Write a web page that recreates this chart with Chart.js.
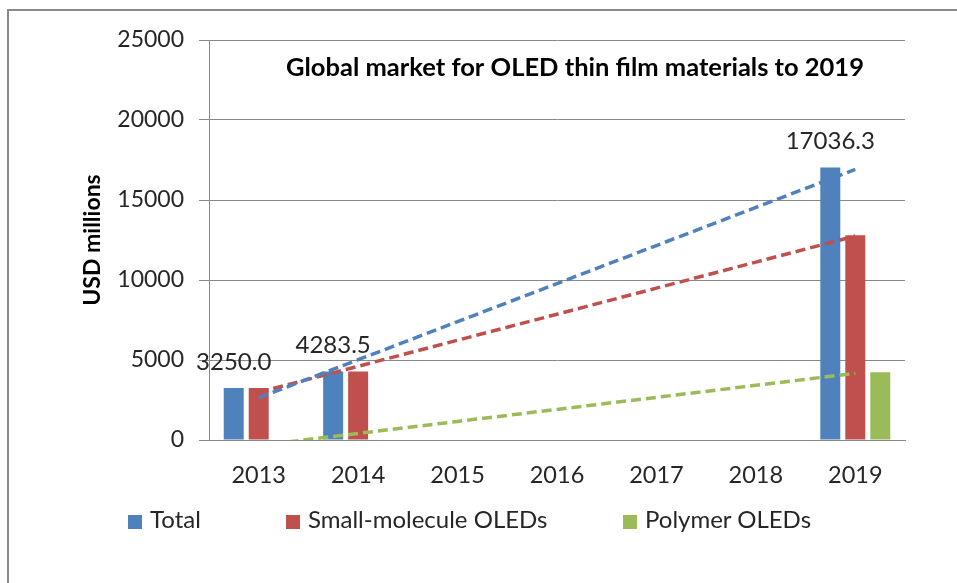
<!DOCTYPE html>
<html>
<head>
<meta charset="utf-8">
<script src="https://cdn.jsdelivr.net/npm/chart.js@4.4.1/dist/chart.umd.min.js"></script>
<style>
  body { margin: 0; background: #fff; font-family: Lato, sans-serif; }
  #wrap { position: relative; width: 957px; height: 583px; overflow: hidden; }
  #frame { position: absolute; left: 7px; top: 9px; width: 1000px; height: 1000px;
           border-top: 2px solid #8a8a8a; border-left: 2px solid #8a8a8a; }
  canvas { position: absolute; left: 0; top: 0; }
  .leg { position: absolute; top: 505px; font-size: 24px; color: #262626; white-space: nowrap; line-height: 28px; }
  .leg span { display: inline-block; width: 14px; height: 14px; margin-right: 8px; vertical-align: -1px; }
</style>
</head>
<body>
<div id="wrap">
  <div id="frame"></div>
  <canvas id="chart" width="957" height="583"></canvas>
  <div class="leg" style="left:128px"><span style="background:#4F81BD"></span>Total</div>
  <div class="leg" style="left:286px"><span style="background:#C0504D"></span>Small-molecule OLEDs</div>
  <div class="leg" style="left:623px"><span style="background:#9BBB59"></span>Polymer OLEDs</div>
</div>
<script>
const years = ["2013", "2014", "2015", "2016", "2017", "2018", "2019"];
const totalValues = [3250.0, 4283.5, null, null, null, null, 17036.3];
const smallMolecule = [3250.0, 4283.5, null, null, null, null, 12800.0];
const polymer = [0, 0, null, null, null, null, 4236.3];
const yTicks = [0, 5000, 10000, 15000, 20000, 25000];

const colors = ["#4F81BD", "#C0504D", "#9BBB59"];

// least-squares trendline over the filled points, evaluated at every category
function trend(values) {
    const pts = values.map((v, i) => [i, v]).filter(p => p[1] !== null);
    const n = pts.length;
    const mx = pts.reduce((s, p) => s + p[0], 0) / n;
    const my = pts.reduce((s, p) => s + p[1], 0) / n;
    let sxy = 0, sxx = 0;
    pts.forEach(p => { sxy += (p[0] - mx) * (p[1] - my); sxx += (p[0] - mx) * (p[0] - mx); });
    const slope = sxy / sxx;
    return values.map((v, i) => my + slope * (i - mx));
}

function trendSet(values, color) {
    return {
        type: "line",
        data: trend(values),
        borderColor: color,
        borderWidth: 3.5,
        borderDash: [10, 5],
        pointRadius: 0,
        fill: false,
        order: 0
    };
}

const barOpts = { categoryPercentage: 0.754, barPercentage: 0.8, order: 1 };

const labelPlugin = {
    id: "labels",
    afterDatasetsDraw(chart) {
        const ctx = chart.ctx;
        const meta = chart.getDatasetMeta(0);
        ctx.save();
        ctx.font = "24px Lato";
        ctx.fillStyle = "#262626";
        ctx.textAlign = "center";
        ctx.textBaseline = "alphabetic";
        meta.data.forEach((bar, i) => {
            if (totalValues[i] === null) return;
            ctx.fillText(totalValues[i].toFixed(1), bar.x, bar.y - 18);
        });
        const a = chart.chartArea;
        ctx.font = "bold 25.5px Lato";
        ctx.fillStyle = "#000";
        ctx.textBaseline = "middle";
        ctx.fillText("Global market for OLED thin film materials to 2019", a.left + 366, a.top + 28);
        ctx.restore();
    }
};

new Chart(document.getElementById("chart"), {
    type: "bar",
    data: {
        labels: years,
        datasets: [
            { label: "Total", data: totalValues, backgroundColor: colors[0], ...barOpts },
            { label: "Small-molecule OLEDs", data: smallMolecule, backgroundColor: colors[1], ...barOpts },
            { label: "Polymer OLEDs", data: polymer, backgroundColor: colors[2], ...barOpts },
            trendSet(totalValues, colors[0]),
            trendSet(smallMolecule, colors[1]),
            trendSet(polymer, colors[2])
        ]
    },
    options: {
        responsive: false,
        animation: false,
        layout: { padding: { top: 40, right: 52, bottom: 83, left: 0 } },
        plugins: { legend: { display: false }, tooltip: { enabled: false } },
        scales: {
            x: {
                grid: { display: false, drawTicks: false },
                border: { color: "#898989", width: 1 },
                ticks: { color: "#262626", font: { family: "Lato", size: 23.5 }, padding: 21 },
                afterFit(scale) { scale.height = 60; }
            },
            y: {
                min: 0,
                max: 25000,
                afterBuildTicks(scale) { scale.ticks = yTicks.map(v => ({ value: v })); },
                grid: { color: "#898989", tickLength: 10, lineWidth: 1 },
                border: { color: "#898989", width: 1 },
                ticks: { color: "#262626", font: { family: "Lato", size: 23 }, padding: 15,
                         callback: v => String(v) },
                title: { display: true, text: "USD millions", color: "#000",
                         font: { family: "Lato", size: 23, weight: "bold" }, padding: { top: 79 } },
                afterFit(scale) { scale.width = 209; }
            }
        }
    },
    plugins: [labelPlugin]
});
</script>
</body>
</html>
